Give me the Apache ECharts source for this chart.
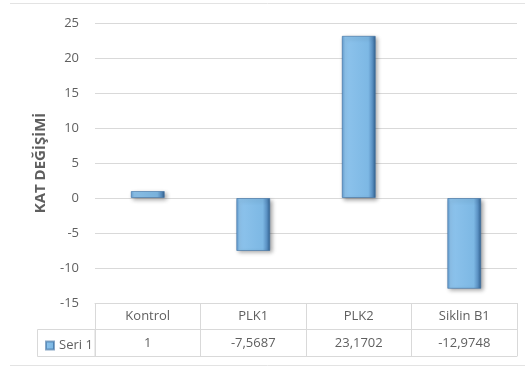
<!DOCTYPE html>
<html><head><meta charset="utf-8">
<script src="https://cdn.jsdelivr.net/npm/echarts@6/dist/echarts.min.js"></script>
<style>html,body{margin:0;padding:0;background:#fff}#c{width:525px;height:367px}</style>
</head><body><div id="c"></div>
<script>
const categories = ['Kontrol', 'PLK1', 'PLK2', 'Siklin B1'];
const values = [1, -7.5687, 23.1702, -12.9748];
const seriesName = 'Seri 1';
const yMin = -15, yMax = 25, yStep = 5;
const axisTitle = 'KAT DEĞİŞİMİ';

const fmt = v => String(v).replace('.', ',');
const txt = '#5f5f5f', line = '#d9d9d9', font = 'Open Sans';
const barFill = new echarts.graphic.LinearGradient(0, 0, 1, 0, [
  {offset: 0, color: '#5f9bd0'}, {offset: 0.1, color: '#8dc3ec'},
  {offset: 0.78, color: '#7db8e4'}, {offset: 0.9, color: '#5a90c2'},
  {offset: 1, color: '#2f5f8c'}]);

const chart = echarts.init(document.getElementById('c'), null, {renderer: 'canvas'});
chart.setOption({
  backgroundColor: '#fff',
  animation: false,
  textStyle: {fontFamily: font},
  grid: {left: 95, right: 8, top: 23, bottom: 64},
  legend: {
    data: [seriesName], left: 40, top: 334, icon: 'rect', itemWidth: 8, itemHeight: 8, itemGap: 4,
    textStyle: {color: txt, fontSize: 13, fontFamily: font}
  },
  xAxis: [
    {type: 'category', data: categories, position: 'bottom',
     axisLine: {show: true, onZero: false, lineStyle: {color: line}},
     axisTick: {show: true, length: 53, interval: 0, lineStyle: {color: line}},
     axisLabel: {margin: 0, interval: 0, formatter: (v, i) => '{a|' + v + '}\n{b|' + fmt(values[i]) + '}',
       rich: {a: {color: txt, fontSize: 13, lineHeight: 27, fontFamily: font},
              b: {color: txt, fontSize: 13, lineHeight: 27, fontFamily: font}}}},
    {type: 'category', data: categories, position: 'bottom', offset: 26,
     axisLine: {show: true, onZero: false, lineStyle: {color: line}}, axisTick: {show: false}, axisLabel: {show: false}},
    {type: 'category', data: categories, position: 'bottom', offset: 53,
     axisLine: {show: true, onZero: false, lineStyle: {color: line}}, axisTick: {show: false}, axisLabel: {show: false}}
  ],
  yAxis: {
    type: 'value', min: yMin, max: yMax, interval: yStep,
    name: axisTitle, nameLocation: 'middle', nameRotate: 90, nameGap: 47,
    nameTextStyle: {color: txt, fontSize: 15, fontWeight: 'bold', fontFamily: font},
    axisLine: {show: false}, axisTick: {show: false},
    axisLabel: {color: txt, fontSize: 13, margin: 16, fontFamily: font},
    splitLine: {lineStyle: {color: line}}
  },
  series: [{
    name: seriesName, type: 'bar', data: values, barWidth: 34, xAxisIndex: 0,
    itemStyle: {color: barFill, borderColor: 'rgba(60,110,160,0.6)', borderWidth: 1,
      shadowColor: 'rgba(0,0,0,0.35)', shadowBlur: 4, shadowOffsetX: 2, shadowOffsetY: 2}
  }],
  graphic: [
    {type: 'line', shape: {x1: 10, y1: 3.5, x2: 525, y2: 3.5}, style: {stroke: '#e3e3e3', lineWidth: 1}},
    {type: 'line', shape: {x1: 10, y1: 365.5, x2: 525, y2: 365.5}, style: {stroke: '#e3e3e3', lineWidth: 1}},
    {type: 'rect', shape: {x: 37.5, y: 329.5, width: 57.5, height: 27}, style: {fill: 'none', stroke: line, lineWidth: 1}}
  ]
});
</script></body></html>
